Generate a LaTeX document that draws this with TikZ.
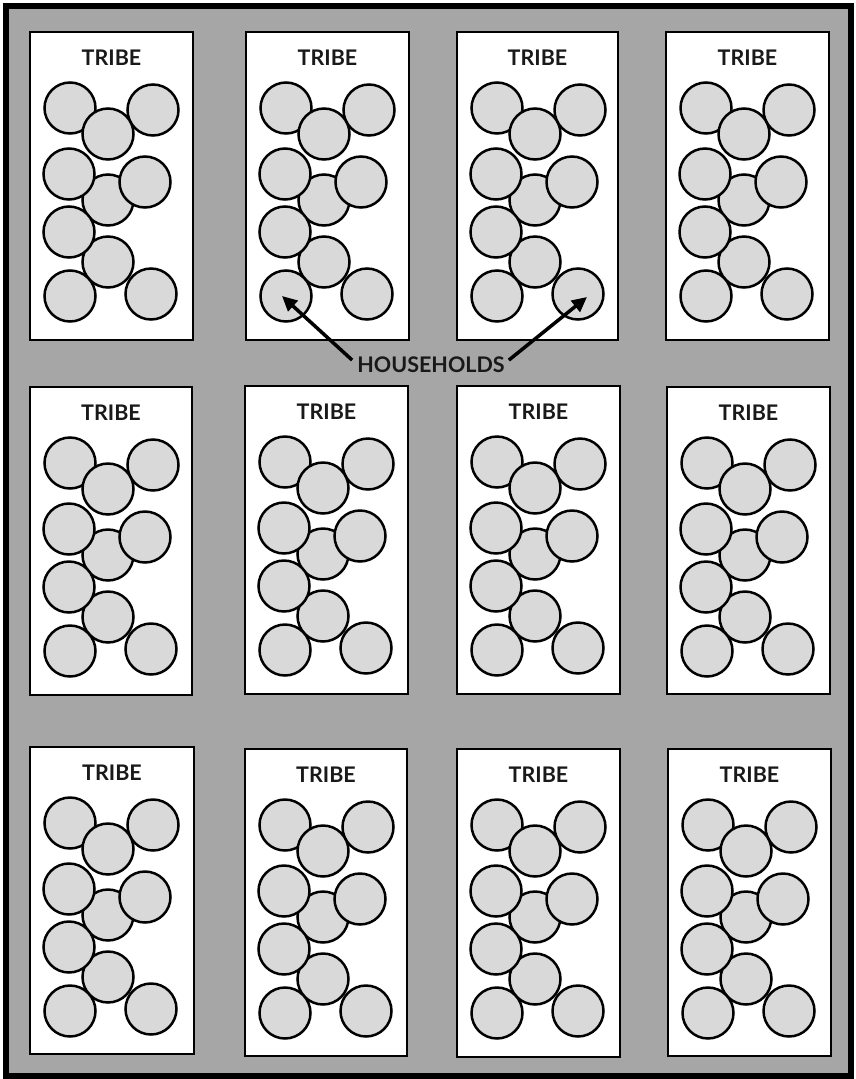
\documentclass[tikz,border=0pt]{standalone}
\usepackage{fontspec}
\setmainfont{Lato}
\usetikzlibrary{arrows.meta}
\definecolor{bggray}{HTML}{A6A6A6}
\definecolor{hhfill}{HTML}{D9D9D9}
\tikzset{
  tribebox/.style={draw=black, line width=2.5pt, fill=white},
  hh/.style={circle, draw=black, line width=2.5pt, fill=hhfill, minimum size=51pt, inner sep=0pt},
  lbl/.style={font=\fontsize{21.5pt}{24pt}\selectfont\bfseries, text=black!90, inner sep=0pt, anchor=base},
  pointer/.style={line width=3.5pt, -{Triangle[length=15pt,width=14pt]}}
}
\begin{document}
\begin{tikzpicture}[x=1pt,y=-1pt]
\useasboundingbox (0,0) rectangle (855,1079);
\draw[line width=6pt, fill=bggray] (6,5.5) rectangle (851,1076);
\foreach \n/\xa/\ya/\xb/\yb in {
  1/30/32/193/340, 2/246/32/409/340, 3/457/32/618/340, 4/666/32/829/340,
  5/30/387/192/695, 6/245/386/408/694, 7/457/386/620/694, 8/667/387/830/694,
  9/30/747/194/1054, 10/245/749/407/1056, 11/457/749/620/1057, 12/668/749/831/1056}{
  \draw[tribebox] (\xa,\ya) rectangle (\xb,\yb);
  \node[lbl] (t\n) at ({(\xa+\xb)/2},\ya+33) {TRIBE};
  \begin{scope}[shift={(\xa,\ya)}]
    \node[hh] (b\n-c1) at (40,76) {};
    \node[hh] (b\n-c2) at (123,78) {};
    \node[hh] (b\n-c3) at (78,102) {};
    \node[hh] (b\n-c5) at (78,168) {};
    \node[hh] (b\n-c4) at (39,142) {};
    \node[hh] (b\n-c6) at (115,150) {};
    \node[hh] (b\n-c8) at (78,230) {};
    \node[hh] (b\n-c7) at (39,200) {};
    \node[hh] (b\n-c9) at (40,264) {};
    \node[hh] (b\n-c10) at (121,262) {};
  \end{scope}
}
\node[lbl] (households) at (431,372) {HOUSEHOLDS};
\coordinate (tipL) at ([xshift=-4pt]b2-c9.center);
\coordinate (tipR) at ([xshift=9pt,yshift=-3pt]b3-c10.center);
\draw[pointer] ([xshift=-5pt,yshift=-4pt]households.north west) -- (tipL);
\draw[pointer] ([xshift=4pt,yshift=-4pt]households.north east) -- (tipR);
\end{tikzpicture}
\end{document}
